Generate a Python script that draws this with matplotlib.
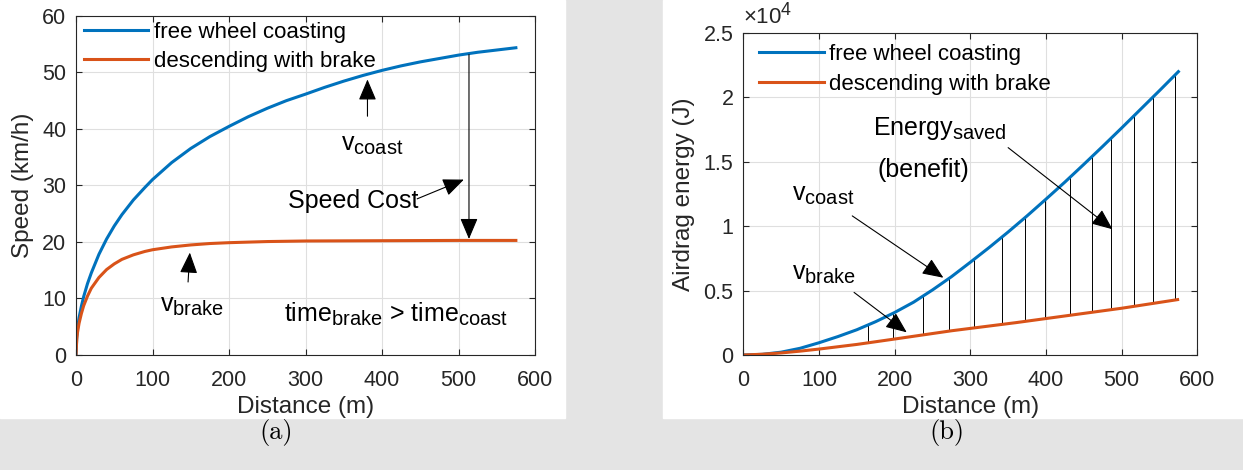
import numpy as np
import matplotlib
matplotlib.use("Agg")
import matplotlib.pyplot as plt
import matplotlib._mathtext as mathtext_internal
from matplotlib.patches import Rectangle
from matplotlib.ticker import FuncFormatter

# MATLAB draws subscripts larger than mathtext does
mathtext_internal.SHRINK_FACTOR = 0.8

# speed vs distance
dist_coast = [0, 1, 2, 4, 7, 10, 15, 20, 30, 40, 50, 60, 75, 90, 100, 125, 150, 175, 200,
	225, 250, 275, 300, 325, 350, 375, 400, 425, 450, 475, 500, 525, 550, 575]
speed_coast = [0, 3.2, 4.7, 6.6, 8.6, 10.3, 12.6, 14.5, 17.8, 20.5, 22.8, 24.8, 27.4, 29.6, 31.0,
	34.0, 36.5, 38.6, 40.4, 42.1, 43.6, 44.95, 46.1, 47.3, 48.4, 49.4, 50.3, 51.1, 51.8, 52.4,
	53.0, 53.5, 53.9, 54.3]
dist_brake = [0, 1, 2, 4, 7, 10, 15, 20, 30, 40, 50, 60, 75, 90, 100, 125, 150, 175, 200,
	250, 300, 400, 500, 575]
speed_brake = [0, 2.8, 4.0, 5.6, 7.3, 8.7, 10.4, 11.8, 13.7, 15.1, 16.1, 16.9, 17.7, 18.3, 18.6,
	19.1, 19.45, 19.7, 19.85, 20.05, 20.15, 20.2, 20.25, 20.25]

# airdrag energy vs distance in J
edist_coast = list(range(0, 576, 25))
energy_coast = [0, 50, 220, 520, 950, 1430, 1960, 2590, 3300, 4100, 5050, 6075, 7200, 8350,
	9550, 10800, 12100, 13425, 14800, 16200, 17625, 19075, 20525, 22000]
edist_brake = [0, 25, 50, 75, 100, 150, 200, 275, 360, 450, 500, 574]
energy_brake = [0, 60, 160, 300, 460, 820, 1240, 1880, 2510, 3230, 3630, 4300]
# x positions of the thin "energy saved" hatching lines
saved_x = [165, 198, 237, 272, 305, 342, 372, 399, 432, 461, 486, 516, 542, 570]

labels = ["free wheel coasting", "descending with brake"]
c_blue = "#0072BD"
c_red = "#D95319"

plt.rcParams["font.family"] = ["Liberation Sans", "DejaVu Sans"]
plt.rcParams["mathtext.default"] = "regular"

W, H = 1243, 470
fig = plt.figure(figsize=(W / 100, H / 100), dpi=100)
fig.patch.set_facecolor("#e4e4e4")
# white paper behind each sub figure
fig.add_artist(Rectangle((0, 1 - 418 / H), 565 / W, 418 / H, transform=fig.transFigure, color="white", zorder=-10))
fig.add_artist(Rectangle((663 / W, 1 - 418 / H), (W - 663) / W, 418 / H, transform=fig.transFigure, color="white", zorder=-10))

ax1 = fig.add_axes([76 / W, 1 - 355 / H, 459 / W, 339.5 / H])
ax2 = fig.add_axes([743.3 / W, 1 - 355 / H, 454 / W, 322 / H])

def style(ax):
	ax.grid(True, color="#dfdfdf", linewidth=0.8)
	ax.set_axisbelow(True)
	ax.tick_params(direction="in", top=True, right=True, length=4, width=0.8,
		labelsize=15.5, colors="#262626", pad=7)
	ax.tick_params(axis="x", pad=10.5)
	for s in ax.spines.values():
		s.set_color("#262626")
		s.set_linewidth(0.8)
	ax.set_xlim(0, 600)
	ax.set_xticks(range(0, 601, 100))
	ax.set_xlabel("Distance (m)", fontsize=17.5, color="#262626", labelpad=4)

arrow = dict(arrowstyle="-|>,head_length=1.3,head_width=0.55", mutation_scale=10,
	color="black", lw=0.8, shrinkA=0, shrinkB=0)
txt = dict(fontsize=18, color="black")

# ---- panel (a)
ax1.plot(dist_coast, speed_coast, color=c_blue, lw=2.2, label=labels[0])
ax1.plot(dist_brake, speed_brake, color=c_red, lw=2.2, label=labels[1])
style(ax1)
ax1.set_ylim(0, 60)
ax1.set_yticks(range(0, 61, 10))
ax1.set_ylabel("Speed (km/h)", fontsize=17.5, color="#262626", labelpad=6)
ax1.legend(loc="upper left", bbox_to_anchor=(0.017, 0.982), frameon=False, fontsize=16,
	handlelength=2.9, handletextpad=0.25, labelspacing=0.39, borderaxespad=0, borderpad=0)

ax1.annotate("", xy=(381, 48.7), xytext=(381, 42.2), arrowprops=arrow)
ax1.text(346, 37.2, "v$_{coast}$", va="center", **txt)
ax1.annotate("", xy=(513.7, 20.5), xytext=(513.7, 53.1), arrowprops=arrow)
ax1.annotate("", xy=(507, 31.0), xytext=(446, 27.6), arrowprops=arrow)
ax1.text(277, 27.2, "Speed Cost", va="center", **txt)
ax1.annotate("", xy=(148.8, 18.1), xytext=(146.5, 12.9), arrowprops=arrow)
ax1.text(110, 8.6, "v$_{brake}$", va="center", **txt)
ax1.text(272, 7.2, "time$_{brake}$ > time$_{coast}$", va="center", **txt)

# ---- panel (b)
ax2.plot(edist_coast, energy_coast, color=c_blue, lw=2.2, label=labels[0])
ax2.plot(edist_brake, energy_brake, color=c_red, lw=2.2, label=labels[1])
top = np.interp(saved_x, edist_coast, energy_coast)
bot = np.interp(saved_x, edist_brake, energy_brake)
ax2.vlines(saved_x, bot, top, color="black", lw=0.7, zorder=1.5)
style(ax2)
ax2.set_ylim(0, 25000)
ax2.set_yticks(np.arange(0, 25001, 5000))
ax2.yaxis.set_major_formatter(FuncFormatter(lambda v, p: "%g" % (v / 1e4)))
ax2.set_ylabel("Airdrag energy (J)", fontsize=17.5, color="#262626", labelpad=6)
ax2.text(0.0, 1.012, r"$\times$10$^4$", transform=ax2.transAxes, fontsize=16, color="#262626",
	ha="left", va="bottom")
ax2.legend(loc="upper left", bbox_to_anchor=(0.035, 0.966), frameon=False, fontsize=16,
	handlelength=2.9, handletextpad=0.25, labelspacing=0.39, borderaxespad=0, borderpad=0)

ax2.text(172, 17600, "Energy$_{saved}$", va="center", **txt)
ax2.text(177, 14400, "(benefit)", va="center", **txt)
ax2.annotate("", xy=(488, 9760), xytext=(350, 16100), arrowprops=arrow)
ax2.text(64, 12400, "v$_{coast}$", va="center", **txt)
ax2.annotate("", xy=(264.4, 6000), xytext=(144, 10800), arrowprops=arrow)
ax2.text(64, 6300, "v$_{brake}$", va="center", **txt)
ax2.annotate("", xy=(216, 1760), xytext=(146.4, 4860), arrowprops=arrow)

# sub figure captions
fig.text(276 / W, 1 - 432 / H, "(a)", family="cmr10", fontsize=19, ha="center", va="center")
fig.text(947 / W, 1 - 432 / H, "(b)", family="cmr10", fontsize=19, ha="center", va="center")

fig.savefig("out.png", dpi=100, facecolor=fig.get_facecolor())
